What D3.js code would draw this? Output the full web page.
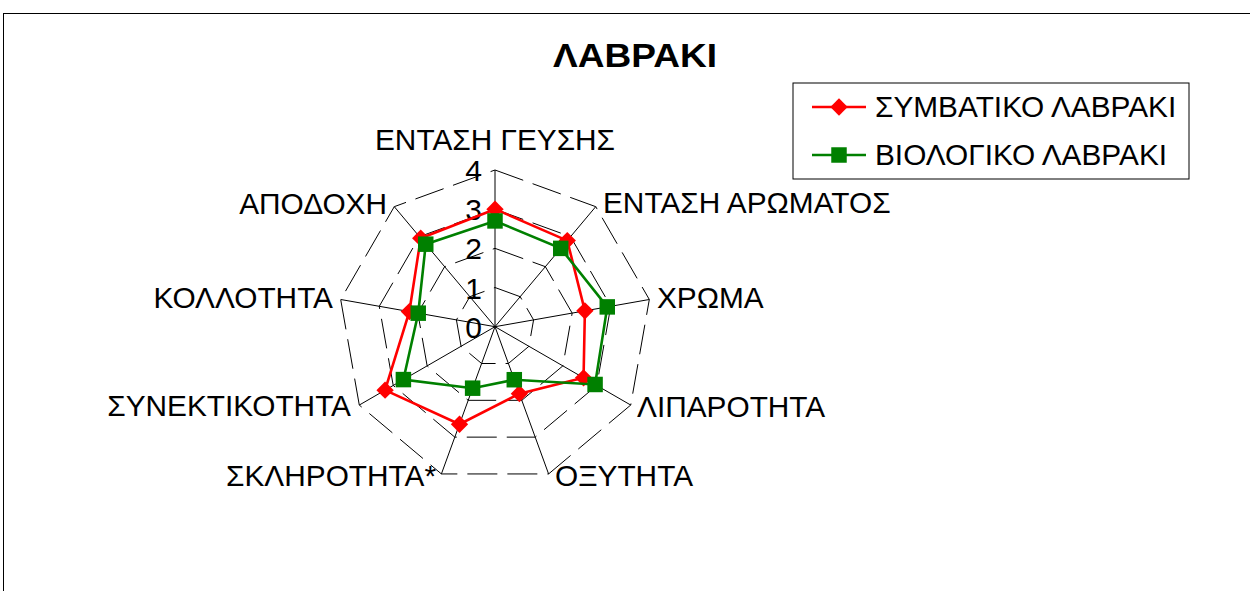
<!DOCTYPE html>
<html>
<head>
<meta charset="utf-8">
<script src="https://cdn.jsdelivr.net/npm/d3@7"></script>
<style>
  html, body { margin: 0; padding: 0; background: #fff; }
  svg { display: block; }
  text { font-family: Arial, "Liberation Sans", sans-serif; fill: #000; }
</style>
</head>
<body>
<svg id="chart" width="1250" height="591"></svg>
<script>
// Sensory attributes (clockwise from top)
const categories = [
  "ΕΝΤΑΣΗ ΓΕΥΣΗΣ", "ΕΝΤΑΣΗ ΑΡΩΜΑΤΟΣ", "ΧΡΩΜΑ", "ΛΙΠΑΡΟΤΗΤΑ", "ΟΞΥΤΗΤΑ",
  "ΣΚΛΗΡΟΤΗΤΑ*", "ΣΥΝΕΚΤΙΚΟΤΗΤΑ", "ΚΟΛΛΟΤΗΤΑ", "ΑΠΟΔΟΧΗ"
];
const conventional = [3.0, 2.87, 2.33, 2.61, 1.82, 2.65, 3.24, 2.22, 2.95];
const organic      = [2.7, 2.61, 2.91, 2.95, 1.44, 1.67, 2.70, 1.99, 2.75];
const seriesNames = ["ΣΥΜΒΑΤΙΚΟ ΛΑΒΡΑΚΙ", "ΒΙΟΛΟΓΙΚΟ ΛΑΒΡΑΚΙ"];
const tickValues = [0, 1, 2, 3, 4];
const title = "ΛΑΒΡΑΚΙ";

const svg = d3.select("#chart");
const cx = 495, cy = 326.7, R = 156.7;
const r = d3.scaleLinear().domain([0, 4]).range([0, R]);
const angle = d3.scaleLinear().domain([0, categories.length]).range([0, 2 * Math.PI]);
const pt = (i, v) => [cx + r(v) * Math.sin(angle(i)), cy - r(v) * Math.cos(angle(i))];

// Chart frame
svg.append("rect").attr("x", 3.5).attr("y", 13.5).attr("width", 1300).attr("height", 700)
  .attr("fill", "none").attr("stroke", "#000").attr("stroke-width", 1);

// Title
svg.append("text").attr("x", 635).attr("y", 67).attr("text-anchor", "middle")
  .attr("font-size", 34).attr("font-weight", "bold")
  .attr("textLength", 164).attr("lengthAdjust", "spacingAndGlyphs").text(title);

// Grid rings
const ringLine = d3.line();
tickValues.filter(t => t > 0).forEach(t => {
  const pts = categories.map((_, i) => pt(i, t));
  pts.push(pts[0]);
  svg.append("path").attr("d", ringLine(pts)).attr("fill", "none")
    .attr("stroke", "#000").attr("stroke-width", 1)
    .attr("stroke-dasharray", "30,10");
});

// Spokes
categories.forEach((_, i) => {
  const [x, y] = pt(i, 4);
  svg.append("line").attr("x1", cx).attr("y1", cy).attr("x2", x).attr("y2", y)
    .attr("stroke", "#000").attr("stroke-width", 1);
});

// Value axis labels
tickValues.forEach(t => {
  svg.append("text").attr("x", 482).attr("y", cy - r(t) + 11)
    .attr("text-anchor", "end").attr("font-size", 30).text(t);
});

// Category labels
const labelPos = [
  { x: 495, y: 150, anchor: "middle" },
  { x: 603, y: 213, anchor: "start" },
  { x: 657, y: 308, anchor: "start" },
  { x: 637, y: 417, anchor: "start" },
  { x: 555, y: 486, anchor: "start" },
  { x: 436, y: 486, anchor: "end" },
  { x: 351, y: 416, anchor: "end" },
  { x: 333, y: 308, anchor: "end" },
  { x: 387, y: 214, anchor: "end" }
];
categories.forEach((c, i) => {
  svg.append("text").attr("x", labelPos[i].x).attr("y", labelPos[i].y)
    .attr("text-anchor", labelPos[i].anchor).attr("font-size", 29.8).text(c);
});

// Series: red diamonds (rotated squares) and green squares
const series = [
  { name: seriesNames[0], values: conventional, color: "#ff0000", rot: 45, size: 150 },
  { name: seriesNames[1], values: organic, color: "#008000", rot: 0, size: 240 }
];
const marker = s => d3.symbol().type(d3.symbolSquare).size(s.size)();
series.forEach(s => {
  const pts = s.values.map((v, i) => pt(i, v));
  svg.append("path").attr("d", d3.line()(pts.concat([pts[0]]))).attr("fill", "none")
    .attr("stroke", s.color).attr("stroke-width", 2.6);
  svg.selectAll(null).data(pts).enter().append("path")
    .attr("transform", d => `translate(${d[0]},${d[1]}) rotate(${s.rot})`)
    .attr("d", marker(s)).attr("fill", s.color);
});

// Legend
const lg = svg.append("g");
lg.append("rect").attr("x", 793).attr("y", 83).attr("width", 396).attr("height", 96)
  .attr("fill", "#fff").attr("stroke", "#000").attr("stroke-width", 1);
series.forEach((s, k) => {
  const y = 107 + k * 48;
  lg.append("line").attr("x1", 812).attr("x2", 866).attr("y1", y).attr("y2", y)
    .attr("stroke", s.color).attr("stroke-width", 2.6);
  lg.append("path").attr("transform", `translate(839,${y}) rotate(${s.rot})`)
    .attr("d", marker(s)).attr("fill", s.color);
  lg.append("text").attr("x", 875).attr("y", y + 10).attr("font-size", 29.8).text(s.name);
});
</script>
</body>
</html>
